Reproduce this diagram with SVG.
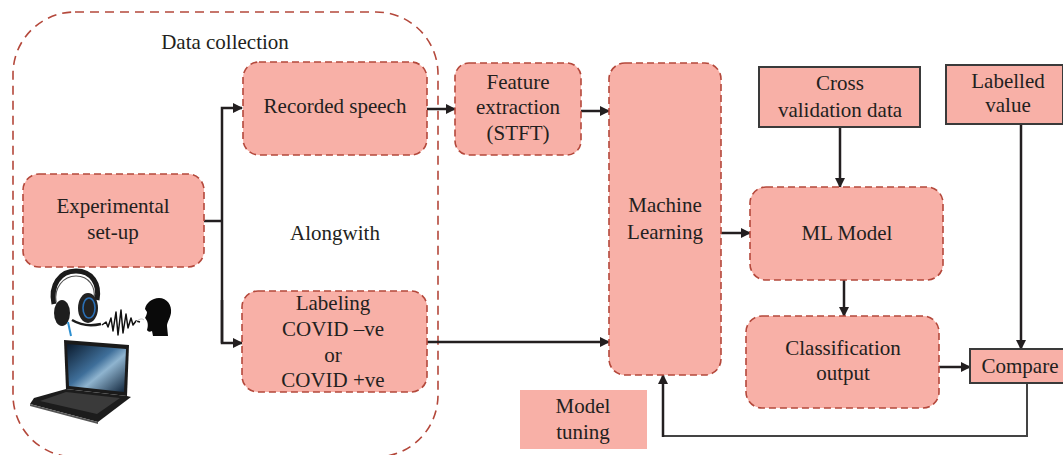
<svg xmlns="http://www.w3.org/2000/svg" width="1063" height="455" viewBox="0 0 1063 455">
  <style>
    .lbl { font-family: "Liberation Serif", "Times New Roman", serif; font-size: 21px; fill: #231f20; text-anchor: middle; }
    .dash { fill: #f8b0a7; stroke: #b4483b; stroke-width: 1.6; stroke-dasharray: 7 4; }
    .solid { fill: #f8b0a7; stroke: #3a3a3a; stroke-width: 2; }
    .plain { fill: #f8b0a7; stroke: none; }
    .wire { fill: none; stroke: #231f20; stroke-width: 2.5; }
    .wire-thin { fill: none; stroke: #444; stroke-width: 2; }
  </style>
  <defs>
    <marker id="arrow" markerWidth="10" markerHeight="10" refX="9" refY="5" orient="auto" markerUnits="userSpaceOnUse">
      <path d="M0,0 L10,5 L0,10 Z" fill="#231f20"/>
    </marker>
    <linearGradient id="screen" x1="0" y1="0" x2="1" y2="1">
      <stop offset="0" stop-color="#0b1a2c"/>
      <stop offset="0.45" stop-color="#3f6f9a"/>
      <stop offset="0.6" stop-color="#8fb4cf"/>
      <stop offset="1" stop-color="#0e2238"/>
    </linearGradient>
  </defs>

  <!-- Data collection group boundary -->
  <g id="data-collection">
    <rect x="13" y="12" width="425" height="445" rx="62" ry="62" fill="none" stroke="#b4483b" stroke-width="1.6" stroke-dasharray="9 6"/>
    <text class="lbl" x="225" y="49">Data collection</text>
    <text class="lbl" x="335" y="240">Alongwith</text>
  </g>

  <!-- Connectors -->
  <g id="connectors">
    <path class="wire" d="M204,221 H222"/>
    <path class="wire" d="M222,343 V108 H242" marker-end="url(#arrow)"/>
    <path class="wire" d="M222,300 V343 H242" marker-end="url(#arrow)"/>
    <path class="wire" d="M427,109 H455" marker-end="url(#arrow)"/>
    <path class="wire" d="M581,111 H609" marker-end="url(#arrow)"/>
    <path class="wire" d="M427,342 H609" marker-end="url(#arrow)"/>
    <path class="wire" d="M721,233 H750" marker-end="url(#arrow)"/>
    <path class="wire" d="M840,127 V187" marker-end="url(#arrow)"/>
    <path class="wire" d="M844,280 V316" marker-end="url(#arrow)"/>
    <path class="wire" d="M939,367 H970" marker-end="url(#arrow)"/>
    <path class="wire" d="M1021,124 V349" marker-end="url(#arrow)"/>
    <path class="wire-thin" d="M1027,383 V436 H663"/>
    <path class="wire" d="M663,437 V375" marker-end="url(#arrow)"/>
  </g>

  <!-- Nodes -->
  <g id="experimental-setup">
    <rect class="dash" x="23" y="174" width="181" height="93" rx="16"/>
    <text class="lbl" x="113" y="213">Experimental</text>
    <text class="lbl" x="113" y="239">set-up</text>
  </g>

  <g id="recorded-speech">
    <rect class="dash" x="243" y="62" width="184" height="93" rx="16"/>
    <text class="lbl" x="335" y="113">Recorded speech</text>
  </g>

  <g id="labeling">
    <rect class="dash" x="242" y="291" width="185" height="101" rx="16"/>
    <text class="lbl" x="333" y="310">Labeling</text>
    <text class="lbl" x="333" y="336">COVID –ve</text>
    <text class="lbl" x="333" y="362">or</text>
    <text class="lbl" x="333" y="387">COVID +ve</text>
  </g>

  <g id="feature-extraction">
    <rect class="dash" x="455" y="63" width="126" height="92" rx="14"/>
    <text class="lbl" x="518" y="89">Feature</text>
    <text class="lbl" x="518" y="114">extraction</text>
    <text class="lbl" x="518" y="140">(STFT)</text>
  </g>

  <g id="machine-learning">
    <rect class="dash" x="609" y="63" width="112" height="312" rx="16"/>
    <text class="lbl" x="665" y="212">Machine</text>
    <text class="lbl" x="665" y="239">Learning</text>
  </g>

  <g id="model-tuning">
    <rect class="plain" x="520" y="390" width="127" height="59"/>
    <text class="lbl" x="583" y="413">Model</text>
    <text class="lbl" x="583" y="439">tuning</text>
  </g>

  <g id="cross-validation">
    <rect class="solid" x="759" y="67" width="161" height="60"/>
    <text class="lbl" x="840" y="90">Cross</text>
    <text class="lbl" x="840" y="117">validation data</text>
  </g>

  <g id="labelled-value">
    <rect class="solid" x="946" y="65" width="117" height="59"/>
    <text class="lbl" x="1008" y="88">Labelled</text>
    <text class="lbl" x="1008" y="112">value</text>
  </g>

  <g id="ml-model">
    <rect class="dash" x="750" y="187" width="193" height="93" rx="16"/>
    <text class="lbl" x="847" y="240">ML Model</text>
  </g>

  <g id="classification-output">
    <rect class="dash" x="746" y="316" width="193" height="92" rx="16"/>
    <text class="lbl" x="843" y="355">Classification</text>
    <text class="lbl" x="843" y="380">output</text>
  </g>

  <g id="compare">
    <rect class="solid" x="970" y="349" width="95" height="34"/>
    <text class="lbl" x="1020" y="373">Compare</text>
  </g>

  <!-- Recording equipment illustration -->
  <g id="equipment">
    <!-- headset -->
    <path d="M54,304 C50,285 60,271 76,271 C92,271 100,284 97,300" fill="none" stroke="#1b1b1b" stroke-width="5"/>
    <path d="M56,302 C54,288 63,276 76,276 C89,276 96,287 94,299" fill="none" stroke="#555" stroke-width="1.2"/>
    <ellipse cx="62" cy="313" rx="8" ry="13" fill="#1e1e1e"/>
    <ellipse cx="88" cy="308" rx="10" ry="15" fill="#222"/>
    <ellipse cx="89" cy="308" rx="6" ry="10" fill="none" stroke="#2a6fb5" stroke-width="1.6"/>
    <path d="M72,320 C82,326 92,326 101,324" fill="none" stroke="#1b1b1b" stroke-width="2.5"/>
    <path d="M68,322 L71,336" fill="none" stroke="#2d8fd0" stroke-width="2"/>
    <!-- sound wave -->
    <path d="M102,325 L106,322 L108,327 L111,318 L113,331 L116,312 L118,335 L121,310 L123,333 L126,314 L128,328 L131,318 L133,325 L136,321 L140,322"
          fill="none" stroke="#111" stroke-width="1.5" stroke-linejoin="round"/>
    <path d="M136,322 C139,319 142,318 144,320" fill="none" stroke="#bbb" stroke-width="1"/>
    <!-- head silhouette -->
    <path d="M147,330 C149,324 147,320 145,318 C146,316 147,314 147,312 L145,309 C146,303 152,298 159,298 C167,298 172,305 171,313 C170,319 167,322 167,326 L168,336 L153,336 L152,331 C150,332 148,332 147,330 Z" fill="#0a0a0a"/>
    <!-- laptop -->
    <path d="M64,340 L129,345 L127,396 L66,389 Z" fill="#1a1a1a"/>
    <path d="M67,344 L126,349 L124,392 L69,386 Z" fill="url(#screen)"/>
    <path d="M66,389 L127,396 L131,397 L98,422 L30,404 L34,398 Z" fill="#1c1c1c"/>
    <path d="M40,401 L66,392 L120,398 L97,414 Z" fill="#3a3a3a"/>
    <path d="M30,404 L98,422 L98,424 L30,406 Z" fill="#555"/>
  </g>
</svg>
